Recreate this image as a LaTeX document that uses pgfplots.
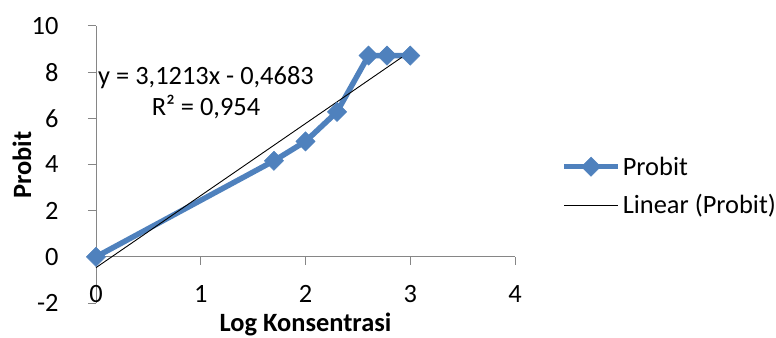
\documentclass[border=0pt]{standalone}
\usepackage{pgfplots}
\pgfplotsset{compat=1.18}
\usepackage{fontspec}
\setmainfont{Carlito}
\definecolor{exblue}{HTML}{4F81BD}
\definecolor{axgray}{HTML}{868686}
\begin{document}
\begin{tikzpicture}
\path[use as bounding box] (0,0) rectangle (776bp,338bp);
\begin{axis}[
  at={(96bp,35bp)}, anchor=south west,
  width=419bp, height=277bp, scale only axis,
  xmin=0, xmax=4, ymin=-2, ymax=10,
  axis x line=middle, axis y line=left,
  hide obscured x ticks=false, hide obscured y ticks=false,
  axis line style={axgray, line width=1bp, -},
  xtick={0,1,2,3,4}, xticklabels={0,1,2,3,4},
  ytick={-2,0,2,4,6,8,10}, yticklabels={-2,0,2,4,6,8,10},
  /pgf/number format/assume math mode=true,
  tick align=outside, major tick length=8bp,
  tick style={axgray, line width=1bp},
  xticklabel style={font=\fontsize{26.5}{31}\selectfont, text=black, anchor=center, yshift=-29bp},
  yticklabel style={font=\fontsize{26.5}{31}\selectfont, text=black, anchor=east, xshift=-26bp},
  xlabel={\textbf{Log Konsentrasi}}, ylabel={\textbf{Probit}},
  label style={font=\fontsize{26.5}{31}\selectfont},
  xlabel style={at={(axis description cs:0.5,-0.077)}, anchor=center},
  ylabel style={at={(axis description cs:-0.177,0.498)}, anchor=center},
  legend style={at={(axis description cs:1.11,0.422)}, anchor=west, draw=none, fill=none,
    font=\fontsize{26.5}{31}\selectfont, row sep=14bp, inner sep=0pt},
  legend cell align=left,
  legend image code/.code={\draw[mark repeat=2,mark phase=2,#1] plot coordinates {(0bp,0bp)(27bp,0bp)(54bp,0bp)};},
  clip=false,
]
\addplot[exblue, line width=5.5bp, mark=square*, mark size=6.8bp,
  mark options={solid, fill=exblue, draw=exblue, line width=0.5bp, rotate=45}]
  coordinates {(0,0) (1.699,4.16) (2,5) (2.301,6.28) (2.602,8.72) (2.778,8.72) (3,8.72)};
\addlegendentry{Probit}
\addplot[black, line width=0.9bp, no marks] coordinates {(0,-0.4683) (3,8.8956)};
\addlegendentry{Linear (Probit)}
\node[align=center, font=\fontsize{26.5}{31}\selectfont] at (axis cs:1.05,7.12) {y = 3,1213x - 0,4683\\R² = 0,954};
\end{axis}
\end{tikzpicture}
\end{document}
